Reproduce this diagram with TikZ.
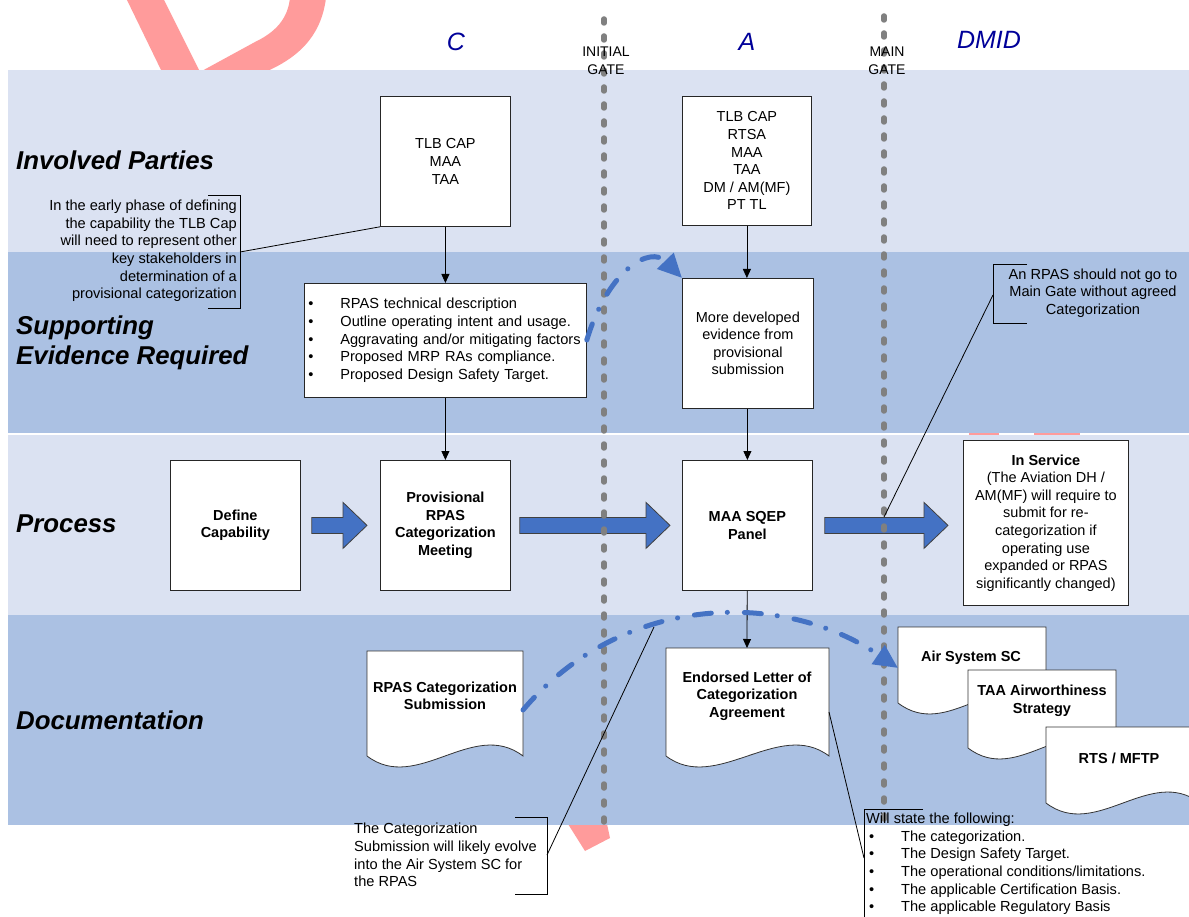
\documentclass[tikz,border=0pt]{standalone}
\usepackage{fontspec}
\setmainfont{Liberation Sans}
\usetikzlibrary{arrows.meta,calc}
\definecolor{BandLight}{RGB}{219,226,242}
\definecolor{BandDark}{RGB}{171,193,227}
\definecolor{ArrowClr}{RGB}{68,114,196}
\definecolor{WaterClr}{RGB}{255,155,155}
\definecolor{GateClr}{RGB}{128,128,128}
\definecolor{HeadClr}{RGB}{0,0,153}
\newcommand\txtfont{\fontsize{14.6}{17.6}\selectfont}
\newcommand\boxfont{\fontsize{14.5}{17.6}\selectfont}
\newcommand\rowfont{\fontsize{25.8}{30}\selectfont\bfseries\itshape}

% document shape with wavy bottom
\newcommand\docshape[4]{%
  \filldraw[docline] (#1,#4) -- (#1,#2) -- (#3,#2) -- (#3,#4)
    .. controls +(-50,-38) and +(50,38) .. (#1,#4) -- cycle;}
% block arrow between two boxes
\newcommand\blockarrow[4]{%
  \path ($(#1.east)+(#3,0)$) coordinate (ba-s)
        ($(#2.west |- #1.east)+(-#4,0)$) coordinate (ba-t);
  \filldraw[blockarr] ($(ba-s)+(0,-8)$) -- ($(ba-t)+(-24,-8)$) -- ($(ba-t)+(-24,-23)$)
    -- (ba-t) -- ($(ba-t)+(-24,23)$) -- ($(ba-t)+(-24,8)$) -- ($(ba-s)+(0,8)$) -- cycle;}

\begin{document}
\begin{tikzpicture}[x=1pt,y=-1pt,
  box/.style={draw=black!85,fill=white,line width=0.8pt,minimum width=130pt,
    minimum height=130pt,align=center,font=\boxfont,inner sep=2pt},
  boldbox/.style={box,font=\boxfont\bfseries},
  doctext/.style={align=center,font=\boxfont\bfseries,inner sep=1pt},
  docline/.style={draw=black!80,fill=white,line width=0.8pt},
  blockarr/.style={fill=ArrowClr,draw=black!75,line width=0.8pt},
  flow/.style={draw=black,line width=0.8pt,-{Triangle[length=9pt,width=8pt]}},
  flowdash/.style={draw=ArrowClr,line width=5pt,line cap=round,
    dash pattern=on 17pt off 16pt on 0.1pt off 17pt,-{Triangle[length=24pt,width=22pt]}},
  gate/.style={draw=GateClr,line width=5.5pt,line cap=round,dash pattern=on 4pt off 13pt},
  head/.style={text=HeadClr,font=\fontsize{25}{30}\selectfont\itshape},
  gatelbl/.style={align=center,font=\fontsize{14}{18}\selectfont,inner sep=0pt},
  rowlbl/.style={anchor=west,align=left,font=\rowfont,inner sep=0pt},
  note/.style={font=\txtfont,inner sep=1pt},
  callout/.style={draw=black,line width=0.8pt}]
\useasboundingbox (0,0) rectangle (1189,917);

% watermark behind the bands
\fill[WaterClr] (126,-2) -- (163,-2) -- (200,72) -- (255,42) .. controls (280,30) and (288,15) .. (290,-2)
  -- (326,-2) .. controls (322,30) and (305,55) .. (265,72) -- (162,72) -- cycle;
\fill[WaterClr] (568,824) -- (607,824) -- (610,838) -- (585,851) -- cycle;

% swim lanes
\fill[BandLight] (8,70) rectangle (1189,252);
\fill[BandDark] (8,252) rectangle (1189,433);
\fill[BandLight] (8,435) rectangle (1189,615);
\fill[BandDark] (8,615) rectangle (1189,825);
\fill[WaterClr] (969,433) rectangle (999,435);
\fill[WaterClr] (1034,433) rectangle (1080,435);

% column heads
\node[head] (colC) at (456,42) {C};
\node[head] (colA) at (747,42) {A};
\node[head] (colDMID) at (989,40) {DMID};

% lane titles
\node[rowlbl] (laneParties) at (16,160) {Involved Parties};
\node[rowlbl] (laneEvid) at (16,343) {Supporting\\Evidence Required};
\node[rowlbl] (laneProc) at (16,524) {Process};
\node[rowlbl] (laneDoc) at (16,720) {Documentation};

% boxes
\node[box,anchor=north west] (partiesC) at (380,96) {TLB CAP\\MAA\\TAA};
\node[box,anchor=north west,minimum width=129pt,minimum height=129pt] (partiesA) at (682,96)
  {TLB CAP\\RTSA\\MAA\\TAA\\DM / AM(MF)\\PT TL};
\node[box,anchor=north west,minimum width=282pt,minimum height=114pt,text width=274pt,
  inner xsep=4pt,align=left,font=\txtfont] (evidC) at (304,283)
  {\makebox[32pt][l]{\textbullet}RPAS technical description\\
   \makebox[32pt][l]{\textbullet}Outline operating intent and usage.\\
   \makebox[32pt][l]{\textbullet}Aggravating and/or mitigating factors\\
   \makebox[32pt][l]{\textbullet}Proposed MRP RAs compliance.\\
   \makebox[32pt][l]{\textbullet}Proposed Design Safety Target.};
\node[box,anchor=north west,minimum width=131pt] (evidA) at (682,278)
  {More developed\\evidence from\\provisional\\submission};
\node[boldbox,anchor=north west] (define) at (170,460) {Define\\Capability};
\node[boldbox,anchor=north west] (prov) at (380,460) {Provisional\\RPAS\\Categorization\\Meeting};
\node[boldbox,anchor=north west] (sqep) at (682,460) {MAA SQEP\\Panel};
\node[box,anchor=north west,minimum width=165pt,minimum height=165pt] (service) at (963,440)
  {\textbf{In Service}\\(The Aviation DH /\\AM(MF) will require to\\submit for re-\\categorization if\\
   operating use\\expanded or RPAS\\significantly changed)};

% documents
\docshape{367}{651}{523}{756}
\node[doctext] (subm) at (445,696) {RPAS Categorization\\Submission};
\docshape{666}{648}{829}{756}
\node[doctext] (letter) at (747,696) {Endorsed Letter of\\Categorization\\Agreement};
\coordinate (letterTop) at (747,648);
\coordinate (letterEdge) at (829,712);
\docshape{898}{627}{1046}{703}
\node[doctext] (airsc) at (971,658) {Air System SC};
\coordinate (airscEdge) at (898,668);
\docshape{968}{670}{1116}{748}
\node[doctext] (taastrat) at (1042,701) {TAA Airworthiness\\Strategy};
\docshape{1046}{727}{1200}{803}
\node[doctext] (rtsmftp) at (1119,758) {RTS / MFTP};

% flow
\draw[flow] (partiesC) -- (evidC.north -| partiesC);
\draw[flow] (evidC.south -| partiesC) -- (prov);
\draw[flow] (partiesA) -- (evidA.north -| partiesA);
\draw[flow] (evidA.south -| sqep) -- (sqep);
\draw[flow] (sqep) -- (letterTop);
\blockarrow{define}{prov}{11}{13}
\blockarrow{prov}{sqep}{9}{12}
\blockarrow{sqep}{service}{12}{15}

% gates
\draw[gate] (604,19) -- (604,822);
\draw[gate] (884,16) -- (884,822);
\node[gatelbl] (gateInit) at (606,61) {INITIAL\\GATE};
\node[gatelbl] (gateMain) at (887,61) {MAIN\\GATE};

% callouts
\node[note,align=right,anchor=east] (noteTLB) at (238,251)
  {In the early phase of defining\\the capability the TLB Cap\\will need to represent other\\
   key stakeholders in\\determination of a\\provisional categorization};
\draw[callout] (208,195) -- (240,195) -- (240,308) -- (208,308);
\draw[callout] (240,252) -- (partiesC.south west);

\node[note,align=center] (noteGate) at (1093,293)
  {An RPAS should not go to\\Main Gate without agreed\\Categorization};
\coordinate (gateHit) at (884,517);
\draw[callout] (1027,264) -- (993,264) -- (993,323) -- (1027,323);
\draw[callout] (993,295) -- (gateHit);

\node[note,align=left,anchor=west] (noteSubm) at (353,855)
  {The Categorization\\Submission will likely evolve\\into the Air System SC for\\the RPAS};
\coordinate (curveHit) at (654,627);
\draw[callout] (515,817) -- (547,817) -- (547,894) -- (515,894);
\draw[callout] (547,855) -- (curveHit);

\node[note,align=left,anchor=north west] (noteLetter) at (865,812)
  {Will state the following:\\
   \makebox[35pt][l]{\hspace{3pt}\textbullet}The categorization.\\
   \makebox[35pt][l]{\hspace{3pt}\textbullet}The Design Safety Target.\\
   \makebox[35pt][l]{\hspace{3pt}\textbullet}The operational conditions/limitations.\\
   \makebox[35pt][l]{\hspace{3pt}\textbullet}The applicable Certification Basis.\\
   \makebox[35pt][l]{\hspace{3pt}\textbullet}The applicable Regulatory Basis};
\draw[callout] (923,809) -- (864,809) -- (864,930);
\draw[callout] (864,858) -- (letterEdge);

% evolution of the evidence
\draw[flowdash] (evidC.east |- 0,340) .. controls (608,270) and (650,245) .. (evidA.north west);
\draw[flowdash] (523,710) .. controls (620,595) and (780,588) .. (airscEdge);
\end{tikzpicture}
\end{document}
